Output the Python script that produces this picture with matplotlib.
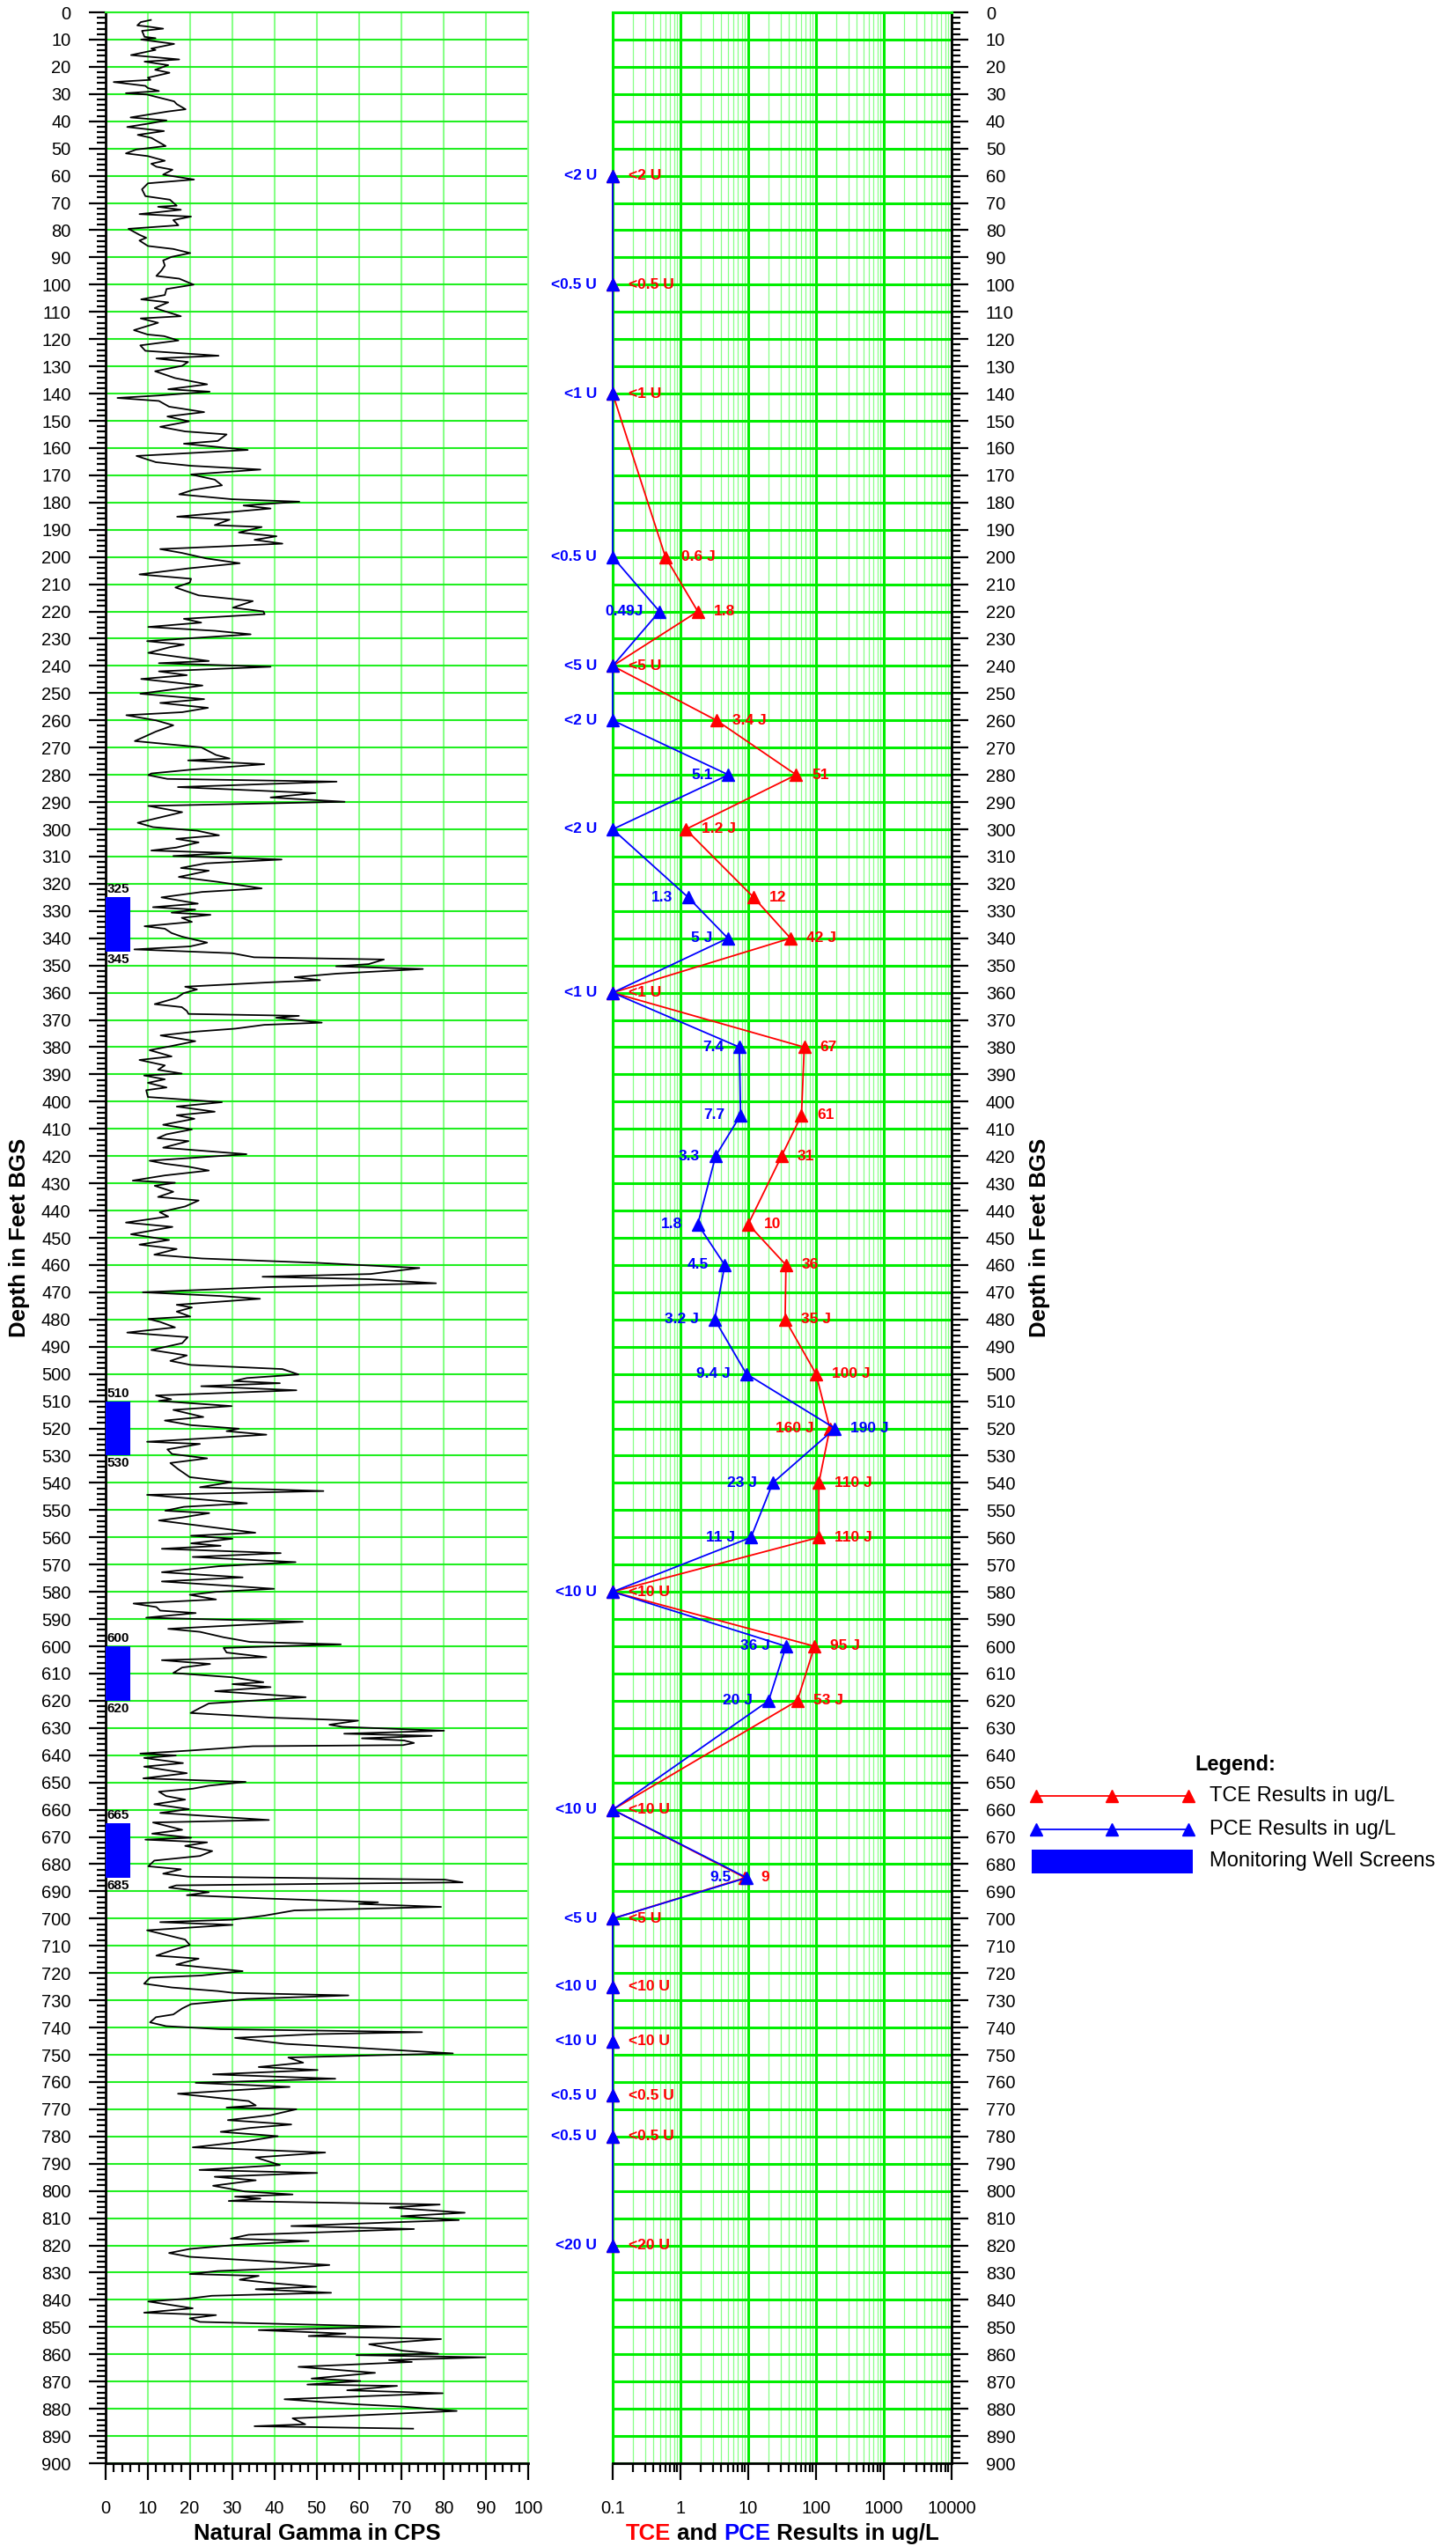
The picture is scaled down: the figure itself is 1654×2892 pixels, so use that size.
import matplotlib
matplotlib.use('Agg')
import matplotlib.pyplot as plt
from matplotlib.lines import Line2D
from matplotlib.patches import Rectangle
from matplotlib.ticker import MultipleLocator, LogLocator, NullFormatter, FixedLocator, FixedFormatter

plt.rcParams['font.family'] = ['Liberation Sans', 'DejaVu Sans']

RED = '#FF0000'
BLUE = '#0000FF'
GRID_BRIGHT = '#22EE22'
GRID_LIGHT = '#88FF88'

# ---------------- data ----------------
# Natural gamma log (depth ft, CPS) in segments
gamma_000_120 = [
    (2.8, 10.8), (3.6, 8.4), (4.8, 7.6), (5.2, 9.9), (6, 13.7), (6.8, 8.7), (9, 9.3), (9.5, 11.9), (10, 8.5),
    (11.6, 16.3), (13.3, 10.9), (13.8, 11.9), (15.7, 6.1), (17.3, 17.5), (18.1, 9.3), (19.4, 14.9), (21.1, 11.8),
    (22.2, 15.2), (24, 10.1), (24.8, 10.7), (25.6, 2), (27, 9.5), (27.8, 10.1), (28.9, 12.7), (29.7, 4.9),
    (30.2, 9.9), (32.7, 16.3), (33.7, 16.9), (35.6, 19), (36.4, 14.9), (38.6, 6), (39.7, 14.5), (40.9, 10.1),
    (42.1, 5.2), (43.6, 13.9), (45, 7.7), (46.1, 10.9), (49.1, 14.3), (50.4, 7.3), (51.8, 4.9), (52.8, 10.1),
    (54.5, 14.1), (55.6, 10.9), (56.7, 12.1), (57.8, 15.9), (59.6, 13.7), (60.3, 16.5), (61.4, 21), (62.8, 10.1),
    (65, 8.7), (67.5, 9.5), (68.8, 15.3), (71, 16.9), (71.4, 12.5), (72.5, 17.9), (74.1, 8.1), (75, 20.3),
    (76.3, 16.1), (78.2, 17.3), (79.5, 5.5), (81.7, 8.1), (82.8, 9.7), (83.8, 8.1), (85.8, 10.1), (86.9, 16.1),
    (88.4, 20.1), (89.8, 15.7), (91.1, 13.7), (93, 14.1), (94.8, 13.3), (96.8, 12.1), (97.8, 17.5), (100, 20.9),
    (101.6, 14.5), (103.8, 14.1), (105.4, 8.5), (106.5, 14.9), (108.6, 11.7), (111.6, 17.9), (112.4, 8.4),
    (114, 12.5), (116.7, 6.8), (118.3, 10), (118.9, 13.9), (120.5, 17.3),
]
gamma_120_320 = [
    (122.3, 8.3), (124.3, 9.5), (126.1, 26.8), (127.1, 12.1), (128.4, 19.6), (129.8, 18.2), (131.8, 11.8),
    (134.3, 16.5), (136.6, 24.1), (138.4, 14.9), (139.3, 24.7), (140.7, 12.7), (141.6, 2.9), (142.7, 12.7),
    (144.8, 15.1), (146.8, 23.4), (148.4, 14.7), (150.2, 19.8), (152.2, 13), (153.9, 18.9), (155, 28.7),
    (157.4, 26.6), (158.4, 18.6), (160.7, 33.7), (162.9, 7.4), (165.2, 12), (166.5, 20.2), (167.9, 36.7),
    (169.7, 20.3), (171.6, 25.9), (173.7, 27.6), (175.4, 20.7), (177, 17.5), (178.8, 30), (179.7, 45.9),
    (181.1, 32.7), (182.2, 39.1), (185.2, 17), (186.3, 29.4), (188.3, 25.9), (189, 37), (191, 31.6),
    (192.4, 40.5), (193.7, 35.3), (195.1, 41.9), (196.1, 28), (197.1, 13), (198.5, 18.1), (200.5, 23.8),
    (202.3, 31.8), (204.2, 19.6), (206.4, 8.1), (208, 20.3), (209.4, 20), (211.2, 16.6), (214.1, 22.1),
    (216.2, 34.9), (218.6, 30.2), (220, 37.4), (221, 37.7), (222.7, 18.6), (224.1, 22.7), (225.7, 10.2),
    (227.1, 25.9), (228.4, 34.4), (230.9, 9.9), (232.2, 18.6), (233.2, 15.1), (235.2, 10.2), (238.2, 24.5),
    (239, 12.7), (240.3, 39.1), (242, 12.7), (243.4, 19.3), (244.8, 8.5), (247.2, 23), (250.2, 8.3),
    (252.2, 23.4), (253.6, 13), (255.4, 24.3), (257, 18.2), (258.1, 5), (260, 12), (261.8, 16.1), (264.1, 12),
    (267.6, 7), (269.9, 22.7), (272.7, 26.2), (274, 29.4), (274.7, 19.6), (276.1, 37.6), (278.1, 20.3),
    (279.5, 10.9), (280.1, 10.2), (281.5, 14.7), (282.5, 54.7), (284.5, 17.2), (286.7, 49.7), (288.3, 39.1),
    (289.9, 56.6), (291.4, 10.2), (293.7, 18.2), (297.6, 7.7), (299.2, 11.3), (300.5, 21.7), (302.2, 26.9),
    (303.5, 16.8), (304.8, 22.1), (306.7, 16.8), (307.8, 10.9), (308.7, 29.7), (309.8, 16.1), (311.1, 41.7),
    (312.5, 23.8), (314.2, 17.9), (315.2, 24.5), (317.5, 17.4), (319.3, 26.6),
]
gamma_320_480 = [
    (321.7, 37), (323, 22.9), (325, 13.3), (327.3, 21.9), (328.6, 11.3), (329.5, 21.3), (330.6, 15.7),
    (331.4, 24.9), (332.5, 18.1), (334, 20.5), (335.6, 9.3), (336.5, 14.1), (338.1, 15.7), (339.4, 18.1),
    (341.6, 24.1), (343, 20.1), (344.1, 6.9), (345.5, 30), (347, 35.2), (347.8, 65.9), (349.5, 62.3),
    (350.3, 54.6), (351.3, 75.1), (353, 54.7), (354.3, 44.8), (355.4, 50.8), (356.2, 38.8), (357.8, 18.9),
    (358.8, 21.7), (360.2, 18.5), (361.9, 16.9), (364.2, 11.7), (365.3, 18.1), (366.7, 19.3), (367.8, 19.7),
    (368.5, 45.8), (369.2, 40.4), (371, 51.2), (371.8, 37.6), (373.2, 30.8), (374.3, 21.3), (375.7, 13.1),
    (377.8, 21.3), (379.7, 15.3), (381.1, 10.5), (383.4, 15.7), (384.7, 8.1), (386.7, 14.1), (388.3, 12.5),
    (389.7, 18.1), (390.4, 9.2), (391.8, 14.1), (393.1, 10.1), (394.8, 14.5), (395.8, 9.7), (398.3, 10.1),
    (400.2, 27.6), (401.8, 16.9), (403.7, 25.9), (405, 16.9), (406.3, 21.1), (408.5, 13.7), (410.2, 20.5),
    (412, 14.5), (413.4, 12.4), (414.5, 19.7), (416.9, 13.7), (419.3, 33.4), (421.7, 10.5), (422.8, 14.1),
    (423.9, 19.7), (425.3, 24.5), (427.1, 14.1), (429, 6.5), (429.8, 16.5), (430.9, 11.7), (433.1, 16.1),
    (435, 12.5), (436.3, 22.1), (438.5, 18.9), (440.6, 12.9), (442.2, 14.9), (444.4, 4.9), (446, 15.9),
    (448.7, 6.1), (450.8, 15.1), (452.5, 8.1), (454.1, 16.9), (456.2, 11.6), (457.6, 22.9), (459.2, 50),
    (461.1, 74.3), (463.3, 62.7), (464.3, 37.2), (465.2, 62.3), (466.7, 78.2), (468.1, 38.8), (470, 8.9),
    (471.4, 27.6), (472.4, 36.6), (474.6, 16.9), (475.6, 20.5), (477.1, 16.9), (478.9, 20.1),
]
gamma_480_640 = [
    (479.8, 10.2), (480.9, 13), (482.9, 16.5), (484.8, 5.2), (486.5, 19.5), (488.7, 18.2), (491.2, 10.9),
    (493.2, 19.3), (495.2, 15.4), (496.7, 20.3), (498.2, 41.9), (500.2, 45.7), (501.5, 33.5), (502.6, 30.4),
    (503.4, 41.3), (504.5, 22.7), (506, 45.2), (507.9, 12), (509.3, 15.6), (509.9, 12.7), (511.8, 29.9),
    (513.2, 16.1), (515.8, 23.2), (517.1, 14.1), (518.8, 20.3), (520.1, 31.6), (521, 28.7), (522.3, 38.1),
    (524.9, 9.9), (525.7, 22.4), (527.7, 14.7), (529.4, 15.8), (531, 24.1), (532.7, 15.4), (534.9, 17.2),
    (537.9, 20), (539.7, 29.9), (541.6, 22.4), (543, 51.6), (544.4, 9.9), (547.5, 33.5), (548.8, 18.6),
    (550.2, 14.2), (551.1, 24.6), (552.7, 18.2), (553.8, 12.7), (556.1, 24.3), (558.3, 35.5), (559.4, 20.3),
    (560.5, 30.1), (562.2, 20.3), (563.1, 27.3), (564.2, 13.4), (565.8, 41.5), (567.2, 20.7), (569.1, 45),
    (570.6, 26.9), (572.8, 13.4), (574.7, 32.5), (576.2, 13.4), (577.8, 29.4), (578.9, 39.9), (580, 26.2),
    (581.1, 20), (582.8, 26.2), (584.3, 6.7), (585.6, 12.1), (586.9, 13), (587.8, 21.4), (589.5, 9.7),
    (591, 46.7), (593.6, 14.9), (594.7, 22.4), (596.7, 28), (598.4, 34.2), (599.3, 55.7), (600.6, 28),
    (602.3, 28.7), (604, 38.1), (605.1, 13.4), (606.5, 24.8), (607.8, 18.2), (609.8, 16.1), (611.4, 30.1),
    (613.2, 37.4), (613.9, 30.1), (615, 39.1), (616.5, 26), (618.7, 47.4), (621, 24.5), (622.9, 22.1),
    (624.5, 20.2), (626.2, 39.1), (627.3, 59.8), (628.8, 53), (629.6, 56.1), (631, 80.1), (632.1, 56.5),
    (632.9, 77.2), (633.8, 60.7), (634.6, 70.7), (635.5, 73), (636.3, 70.4), (636.7, 34.9), (638.3, 20),
    (639.4, 8.3),
]
gamma_640_760 = [
    (640.1, 16.7), (641, 9.2), (642.9, 18.4), (644.2, 9.2), (645.3, 13.7), (646.6, 19.3), (648.5, 9),
    (649.8, 33.2), (651.2, 24.5), (652.3, 20.7), (653.4, 12.7), (655, 14.4), (656.3, 18.9), (658, 11.6),
    (659.8, 19.8), (661.2, 13), (663.8, 38.7), (664.7, 11.3), (667.4, 18.2), (668.8, 11.1), (670.3, 20.3),
    (671, 9.5), (672, 24.1), (673.3, 18.9), (675.2, 25.3), (677, 22.4), (678.7, 11.6), (680.8, 10.2),
    (681.9, 17.9), (683.5, 13.7), (684.6, 19.6), (685.7, 80.3), (686.7, 84.5), (687.8, 16.8), (688.6, 15.1),
    (690.3, 24.5), (691.4, 19.3), (692.6, 37.7), (694, 64.5), (694.6, 60), (695.7, 79.4), (697, 44.7),
    (698.9, 37.7), (700.4, 30.1), (701.3, 13), (702.3, 30.1), (704.3, 9.9), (706.1, 14.7), (707.7, 18.9),
    (709.7, 20), (711.5, 16.1), (713.6, 12.1), (714.7, 22.1), (716.9, 16.8), (719.3, 32.5), (720.9, 22.7),
    (721.7, 10.6), (723.9, 9.2), (725.3, 15.8), (726.6, 26.6), (727.3, 30.4), (728.2, 57.5), (729.5, 33.5),
    (731.4, 20.3), (733, 18.2), (735.2, 16.1), (736.2, 12), (738.1, 10.6), (739.5, 14.4), (740.6, 27.3),
    (741.7, 74.9), (742.4, 50.2), (743.8, 30.7), (746, 42.6), (747.5, 60), (749.5, 82.2), (751, 43.3),
    (752.9, 46.8), (754.5, 36.3), (755.6, 50.2), (757.2, 25.5), (758.8, 54.4),
]
gamma_760_890 = [
    (760.3, 21.4), (761.8, 43.6), (764.3, 17.2), (767, 33.9), (768.6, 35.6), (769.4, 28.7), (770, 45.2),
    (772.2, 39.1), (774, 29), (775.6, 44), (776.9, 34.1), (778.3, 27.3), (779.9, 40.8), (781.9, 32.8),
    (784, 20.7), (785.9, 52), (787.7, 35.6), (790.5, 41.3), (792.3, 22.3), (793.4, 50.1), (794.8, 25.9),
    (796.1, 35.6), (798.1, 25.5), (800.2, 33), (801.3, 44.3), (802.1, 30.7), (802.8, 36.7), (803.7, 29.2),
    (805, 79.1), (806.1, 67.3), (808, 85), (809.3, 70), (810.7, 83.6), (811.5, 68.7), (812.9, 44), (814, 73),
    (816.1, 33.9), (817.5, 29.7), (818.4, 48.1), (819.9, 30.1), (821.3, 20), (822.8, 15.1), (824.2, 20),
    (825.8, 37.7), (827.2, 53), (828.5, 41.9), (829.4, 26.6), (830.5, 20), (831.2, 36.3), (832.6, 31.8),
    (833.9, 39.8), (835.2, 49.9), (836.1, 35.6), (837.4, 53.4), (838.5, 25.2), (839.5, 20), (840.6, 10.2),
    (843.1, 20.7), (844.7, 9.2), (845.6, 26.2), (846.8, 20), (848.1, 22.4), (849.9, 69.7), (851.1, 36.3),
    (852.4, 56.8), (853.3, 48.1), (854.4, 79.4), (856.3, 62.4), (858.7, 70.4), (859.8, 78.7), (860.3, 59.4),
    (861.1, 89.9), (862.1, 67.1), (862.8, 72.5), (864.6, 45.7), (866.8, 63.8), (868.9, 48.8), (869.8, 60.3),
    (871.1, 47.8), (871.6, 69), (873.2, 57.2), (874.3, 79.8), (876.5, 42.4), (878.3, 58.6), (879.2, 70.4),
    (880.8, 83.1), (883.5, 44.3), (885.7, 47.3), (886.4, 35.3), (887.3, 72.8),
]

# Monitoring well screens (ft)
screen_top = [325, 510, 600, 665]
screen_bottom = [345, 530, 620, 685]
screen_width_cps = 6

# Sample results (ug/L); non-detects plotted at 0.1
sample_depth = [60, 100, 140, 200, 220, 240, 260, 280, 300, 325, 340, 360, 380, 405, 420, 445, 460, 480,
                500, 520, 540, 560, 580, 600, 620, 660, 685, 700, 725, 745, 765, 780, 820]
tce_value = [0.1, 0.1, 0.1, 0.6, 1.8, 0.1, 3.4, 51, 1.2, 12, 42, 0.1, 67, 61, 31, 10, 36, 35,
             100, 160, 110, 110, 0.1, 95, 53, 0.1, 9, 0.1, 0.1, 0.1, 0.1, 0.1, 0.1]
tce_label = ['<2 U', '<0.5 U', '<1 U', '0.6 J', '1.8', '<5 U', '3.4 J', '51', '1.2 J', '12', '42 J', '<1 U',
             '67', '61', '31', '10', '36', '35 J', '100 J', '160 J', '110 J', '110 J', '<10 U', '95 J', '53 J',
             '<10 U', '9', '<5 U', '<10 U', '<10 U', '<0.5 U', '<0.5 U', '<20 U']
pce_value = [0.1, 0.1, 0.1, 0.1, 0.49, 0.1, 0.1, 5.1, 0.1, 1.3, 5, 0.1, 7.4, 7.7, 3.3, 1.8, 4.5, 3.2,
             9.4, 190, 23, 11, 0.1, 36, 20, 0.1, 9.5, 0.1, 0.1, 0.1, 0.1, 0.1, 0.1]
pce_label = ['<2 U', '<0.5 U', '<1 U', '<0.5 U', '0.49J', '<5 U', '<2 U', '5.1', '<2 U', '1.3', '5 J', '<1 U',
             '7.4', '7.7', '3.3', '1.8', '4.5', '3.2 J', '9.4 J', '190 J', '23 J', '11 J', '<10 U', '36 J', '20 J',
             '<10 U', '9.5', '<5 U', '<10 U', '<10 U', '<0.5 U', '<0.5 U', '<20 U']
swapped_label_depths = [520]

gamma_ticks = [0, 10, 20, 30, 40, 50, 60, 70, 80, 90, 100]
conc_ticks = [0.1, 1, 10, 100, 1000, 10000]
conc_tick_labels = ['0.1', '1', '10', '100', '1000', '10000']
depth_max = 900

# ---------------- figure ----------------
W, H = 1654, 2892
DPI = 100
fig = plt.figure(figsize=(W / DPI, H / DPI), dpi=DPI)


def box(x0, y0, x1, y1):
    return [x0 / W, 1 - y1 / H, (x1 - x0) / W, (y1 - y0) / H]


axL = fig.add_axes(box(119.5, 14, 600, 2798))
axR = fig.add_axes(box(696, 14, 1081, 2798))

TICK_FS = 14.5

# ---- left panel: natural gamma ----
gd, gc = [], []
for seg in (gamma_000_120, gamma_120_320, gamma_320_480, gamma_480_640, gamma_640_760, gamma_760_890):
    for d, c in seg:
        gd.append(d)
        gc.append(c)

axL.set_xlim(gamma_ticks[0], gamma_ticks[-1])
axL.set_ylim(depth_max, 0)
axL.xaxis.set_major_locator(FixedLocator(gamma_ticks))
axL.xaxis.set_minor_locator(MultipleLocator(2))
axL.yaxis.set_major_locator(MultipleLocator(10))
axL.yaxis.set_minor_locator(MultipleLocator(2))
axL.grid(True, which='major', axis='y', color=GRID_BRIGHT, lw=1.5, zorder=0)
axL.grid(True, which='major', axis='x', color=GRID_LIGHT, lw=1.5, zorder=0)
axL.set_axisbelow(True)
axL.tick_params(axis='both', which='major', direction='out', length=14, width=1.6, labelsize=TICK_FS, color='black')
axL.tick_params(axis='both', which='minor', direction='out', length=7.5, width=1.6, color='black')
axL.tick_params(axis='y', which='both', pad=14)
axL.tick_params(axis='x', which='major', pad=16)
for s in ('left', 'bottom'):
    axL.spines[s].set_linewidth(2)
    axL.spines[s].set_color('black')
axL.spines['top'].set_color(GRID_BRIGHT)
axL.spines['top'].set_linewidth(1.5)
axL.spines['right'].set_color(GRID_LIGHT)
axL.spines['right'].set_linewidth(1.5)

axL.plot(gc, gd, color='black', lw=1.3, zorder=3)

mids = [(t + b) / 2 for t, b in zip(screen_top, screen_bottom)]
hts = [b - t for t, b in zip(screen_top, screen_bottom)]
axL.barh(mids, [screen_width_cps] * len(mids), height=hts, left=0, color=BLUE, zorder=4)
for t, b in zip(screen_top, screen_bottom):
    axL.text(0.45, t - 0.6, f'{t}', ha='left', va='bottom', fontsize=11, fontweight='bold', zorder=5)
    axL.text(0.45, b + 0.6, f'{b}', ha='left', va='top', fontsize=11, fontweight='bold', zorder=5)

# ---- right panel: TCE / PCE ----
axR.set_xscale('log')
axR.set_xlim(conc_ticks[0], conc_ticks[-1])
axR.set_ylim(depth_max, 0)
axR.xaxis.set_major_locator(FixedLocator(conc_ticks))
axR.xaxis.set_major_formatter(FixedFormatter(conc_tick_labels))
axR.xaxis.set_minor_locator(LogLocator(base=10, subs=range(2, 10), numticks=50))
axR.xaxis.set_minor_formatter(NullFormatter())
axR.yaxis.set_major_locator(MultipleLocator(10))
axR.yaxis.set_minor_locator(MultipleLocator(2))
axR.yaxis.tick_right()
axR.grid(True, which='major', axis='both', color='#00EE00', lw=2.2, zorder=0)
axR.grid(True, which='minor', axis='x', color=GRID_LIGHT, lw=0.9, zorder=0)
axR.set_axisbelow(True)
axR.tick_params(axis='both', which='major', direction='out', length=14, width=1.6, labelsize=TICK_FS, color='black')
axR.tick_params(axis='both', which='minor', direction='out', length=7.5, width=1.6, color='black')
axR.tick_params(axis='y', which='both', left=False, right=True, labelleft=False, labelright=True, pad=14)
axR.tick_params(axis='x', which='major', pad=16)
for s in ('right', 'bottom'):
    axR.spines[s].set_linewidth(2)
    axR.spines[s].set_color('black')
for s in ('left', 'top'):
    axR.spines[s].set_color('#00EE00')
    axR.spines[s].set_linewidth(2.2)

axR.plot(tce_value, sample_depth, color=RED, lw=1.3, marker='^', ms=10, mec=RED, mfc=RED,
         clip_on=False, zorder=5)
axR.plot(pce_value, sample_depth, color=BLUE, lw=1.3, marker='^', ms=10, mec=BLUE, mfc=BLUE,
         clip_on=False, zorder=6)

LBL_FS = 12.5
OFF = 18
for d, v, lab in zip(sample_depth, tce_value, tce_label):
    left = d in swapped_label_depths
    axR.annotate(lab, (v, d), xytext=(-OFF if left else OFF, 0), textcoords='offset pixels',
                 ha='right' if left else 'left', va='center', color=RED, fontsize=LBL_FS,
                 fontweight='bold', annotation_clip=False, zorder=7)
for d, v, lab in zip(sample_depth, pce_value, pce_label):
    right = d in swapped_label_depths
    axR.annotate(lab, (v, d), xytext=(OFF if right else -OFF, 0), textcoords='offset pixels',
                 ha='left' if right else 'right', va='center', color=BLUE, fontsize=LBL_FS,
                 fontweight='bold', annotation_clip=False, zorder=7)

# ---- overlay for free text and legend (pixel coordinates) ----
axO = fig.add_axes([0, 0, 1, 1], zorder=10)
axO.set_xlim(0, W)
axO.set_ylim(H, 0)
axO.axis('off')

LAB_FS = 18.5
axO.text(22, 1406, 'Depth in Feet BGS', rotation=90, ha='center', va='center', fontsize=LAB_FS, fontweight='bold')
axO.text(1181, 1406, 'Depth in Feet BGS', rotation=90, ha='center', va='center', fontsize=LAB_FS, fontweight='bold')
axO.text(360, 2885, 'Natural Gamma in CPS', ha='center', va='baseline', fontsize=LAB_FS, fontweight='bold')

fig.canvas.draw()
renderer = fig.canvas.get_renderer()
parts = [('TCE', RED), (' and ', 'black'), ('PCE', BLUE), (' Results in ug/L', 'black')]
tmp = [axO.text(0, 0, s, fontsize=LAB_FS, fontweight='bold') for s, _ in parts]
widths = [t.get_window_extent(renderer).width for t in tmp]
for t in tmp:
    t.remove()
x = 888.5 - sum(widths) / 2
for (s, c), w in zip(parts, widths):
    axO.text(x, 2885, s, color=c, ha='left', va='baseline', fontsize=LAB_FS, fontweight='bold')
    x += w

# legend
LEG_FS = 17
axO.text(1403, 2005, 'Legend:', ha='center', va='center', fontsize=LEG_FS, fontweight='bold')
for yy, col, lab in ((2040, RED, 'TCE Results in ug/L'), (2078, BLUE, 'PCE Results in ug/L')):
    axO.add_line(Line2D([1177, 1263, 1350], [yy, yy, yy], color=col, lw=1.3, marker='^', ms=10,
                        mfc=col, mec=col))
    axO.text(1374, yy, lab, ha='left', va='center', fontsize=LEG_FS)
axO.add_patch(Rectangle((1172, 2101), 183, 27, facecolor=BLUE, edgecolor='none'))
axO.text(1374, 2114, 'Monitoring Well Screens', ha='left', va='center', fontsize=LEG_FS)

fig.savefig('out.png', dpi=DPI)
